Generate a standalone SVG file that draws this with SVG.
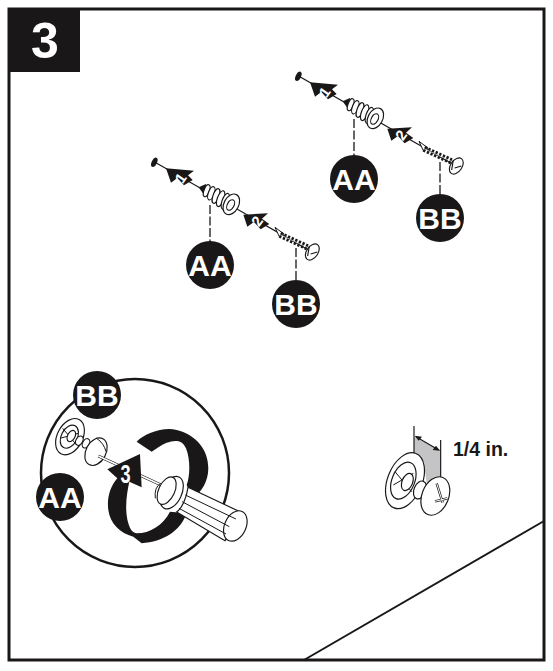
<svg xmlns="http://www.w3.org/2000/svg" width="553" height="671" viewBox="0 0 553 671">
<style>
.lbl{font-family:"Liberation Sans",Arial,sans-serif;font-weight:700;font-size:30px;fill:#fff;text-anchor:middle}
.num{font-family:"Liberation Sans",Arial,sans-serif;font-weight:700;fill:#fff;text-anchor:middle}
.ln{fill:none;stroke:#1a1718;stroke-width:1.2}
.dash{fill:none;stroke:#1a1718;stroke-width:1.3;stroke-dasharray:9 2.5}
.blk{fill:#1a1718}
.o{fill:#fff;stroke:#1a1718;stroke-width:3.5}
</style>
<defs>
<g id="hardware" transform="scale(.3333)">
<ellipse cx="43" cy="67" rx="8" ry="15" transform="rotate(25 43 67)" class="blk"/>
<path d="M45 67L515 335" class="ln" style="stroke-width:3.5"/>
<path class="blk" d="M78 85L162 92L144 106L158 120L132 136L112 114L93 128Z"/>
<path d="M176 142L198 132L196 170Z" class="blk"/>
<ellipse cx="200" cy="152" rx="8" ry="19" transform="rotate(20 200 152)" class="o"/>
<ellipse cx="214" cy="160" rx="9" ry="21" transform="rotate(20 214 160)" class="o"/>
<ellipse cx="228" cy="168" rx="9" ry="23" transform="rotate(20 228 168)" class="o"/>
<ellipse cx="242" cy="176" rx="10" ry="25" transform="rotate(20 242 176)" class="o"/>
<ellipse cx="256" cy="184" rx="10" ry="25" transform="rotate(20 256 184)" class="o"/>
<ellipse cx="274" cy="193" rx="22" ry="33" transform="rotate(28 274 193)" class="o"/>
<ellipse cx="272" cy="195" rx="10" ry="17" transform="rotate(28 272 195)" class="o"/>
<path class="blk" d="M310 224L384 220L366 236L388 252L362 268L342 246L322 260Z"/>
<path d="M405 262L432 282L418 290Z" class="o" style="stroke-width:3"/>
<path d="M420 284L502 322" style="fill:none;stroke:#1a1718;stroke-width:19;stroke-dasharray:7 5"/>
<path d="M420 284L502 322" style="fill:none;stroke:#fff;stroke-width:2"/>
<ellipse cx="517" cy="336" rx="17" ry="27" transform="rotate(35 517 336)" class="o"/>
<path d="M508 318L503 348M512 342L532 336" class="ln" style="stroke-width:3.5"/>
</g>
</defs>
<g id="frame">
<rect x="9" y="9" width="535" height="651" fill="#fff" stroke="#1a1718" stroke-width="3"/>
<path d="M304 660L544 521" class="ln" style="stroke-width:2"/>
</g>
<g id="step-badge">
<rect x="9" y="9" width="71" height="63" class="blk"/>
<text x="45" y="58" style="font-family:'Liberation Sans',Arial,sans-serif;font-weight:700;font-size:50px;fill:#fff;text-anchor:middle">3</text>
</g>
<g id="connectors">
<path d="M210 205V242" class="dash"/>
<path d="M296 248V282" class="dash"/>
<path d="M354 119V156" class="dash"/>
<path d="M440 162V196" class="dash"/>
<path d="M97 419V436" class="dash"/>
<path d="M61 452V473" class="dash"/>
</g>
<g id="hardware-lower" transform="translate(140 140)">
<use href="#hardware"/>
<text class="num" font-size="15" transform="translate(45 41) rotate(-55)">1</text>
<text class="num" font-size="15" transform="translate(121.500 84) rotate(-55)">2</text>
</g>
<g id="hardware-upper" transform="translate(284 54)">
<use href="#hardware"/>
<text class="num" font-size="15" transform="translate(45 41) rotate(-55)">1</text>
<text class="num" font-size="15" transform="translate(121.500 84) rotate(-55)">2</text>
</g>
<g id="aa-lower"><circle cx="210" cy="265" r="24" class="blk"/><text x="210" y="276" class="lbl">AA</text></g>
<g id="bb-lower"><circle cx="296" cy="304" r="24" class="blk"/><text x="296" y="315" class="lbl">BB</text></g>
<g id="aa-upper"><circle cx="354" cy="179" r="24" class="blk"/><text x="354" y="190" class="lbl">AA</text></g>
<g id="bb-upper"><circle cx="440" cy="218" r="24" class="blk"/><text x="440" y="229" class="lbl">BB</text></g>
<g id="detail-circle">
<circle cx="135" cy="473" r="94" fill="#fff" stroke="#1a1718" stroke-width="2.5"/>
<g transform="translate(30 370) scale(.3333)">
<ellipse cx="120" cy="200" rx="38" ry="58" transform="rotate(28 120 200)" class="o"/>
<ellipse cx="118" cy="200" rx="24" ry="37" transform="rotate(28 118 200)" class="o"/>
<path d="M98 175L140 225M90 205L145 190" class="ln" style="stroke-width:3"/>
<ellipse cx="124" cy="198" rx="11" ry="18" transform="rotate(28 124 198)" class="o"/>
<ellipse cx="148" cy="212" rx="10" ry="15" transform="rotate(28 148 212)" class="o"/>
<ellipse cx="168" cy="220" rx="10" ry="15" transform="rotate(28 168 220)" class="o"/>
<ellipse cx="198" cy="245" rx="30" ry="44" transform="rotate(28 198 245)" class="o"/>
<path d="M200 205Q222 220 228 245" class="ln" style="stroke-width:3"/>
<path d="M205 258L400 348" style="fill:none;stroke:#1a1718;stroke-width:9"/>
<path d="M205 258L400 348" style="fill:none;stroke:#fff;stroke-width:5"/>
<path class="blk" d="M320 215C345 190 400 170 440 180C500 195 535 240 535 295C535 335 515 365 490 385L470 345C480 320 482 270 468 235C455 205 430 212 410 218C395 224 380 235 365 245Z"/>
<path class="blk" d="M232 298L330 252L335 352L298 335C290 370 283 420 295 460C300 480 310 490 320 490C360 490 400 465 420 425L470 430C450 485 400 515 335 520L310 500C270 490 240 460 235 420C230 385 240 350 262 325Z"/>
<path d="M474 352L640 430L585 512L440 426C455 415 470 385 474 352Z" class="o"/>
<ellipse cx="616" cy="468" rx="32" ry="48" transform="rotate(25 616 468)" class="o"/>
<ellipse cx="425" cy="368" rx="30" ry="52" transform="rotate(25 425 368)" class="o"/>
<ellipse cx="410" cy="362" rx="24" ry="44" transform="rotate(25 410 362)" class="o"/>
<path d="M392 340Q372 352 376 385" class="ln" style="stroke-width:3"/>
<path d="M466 375L618 447M456 395L598 470M447 415L588 492" class="ln" style="stroke-width:3"/>
<text class="num" font-size="76" transform="translate(287 340) scale(.72 1)">3</text>
</g>
</g>
<g id="bb-detail"><circle cx="97" cy="395" r="24" class="blk"/><text x="97" y="406" class="lbl">BB</text></g>
<g id="aa-detail"><circle cx="60" cy="497" r="24" class="blk"/><text x="60" y="508" class="lbl">AA</text></g>
<g id="quarter-inch" transform="translate(370 420) scale(.3333)">
<path d="M132 50L212 90V185L170 190C165 130 150 105 132 96Z" fill="#c4c4c6"/>
<path d="M132 18V100M212 60V190" class="ln" style="stroke-width:3.5"/>
<path d="M138 50L206 90" class="ln" style="stroke-width:3.5"/>
<path class="blk" d="M134 47L156 50L146 62ZM210 92L188 90L198 77Z"/>
<ellipse cx="105" cy="182" rx="52" ry="88" transform="rotate(22 105 182)" class="o"/>
<ellipse cx="100" cy="182" rx="34" ry="58" transform="rotate(22 100 182)" class="o"/>
<path d="M75 155L125 215M70 195L130 160" class="ln" style="stroke-width:3"/>
<ellipse cx="112" cy="186" rx="16" ry="27" transform="rotate(22 112 186)" class="o"/>
<ellipse cx="150" cy="210" rx="18" ry="28" transform="rotate(22 150 210)" class="o"/>
<ellipse cx="196" cy="228" rx="40" ry="60" transform="rotate(22 196 228)" class="o"/>
<path d="M200 190L218 248M195 244L232 235" style="fill:none;stroke:#1a1718;stroke-width:7"/>
<path d="M200 190L218 248M195 244L232 235" style="fill:none;stroke:#fff;stroke-width:3"/>
</g>
<text id="quarter-label" x="453" y="456" style="font-family:'Liberation Sans',Arial,sans-serif;font-weight:700;font-size:19.5px;fill:#1a1718">1/4 in.</text>
</svg>
